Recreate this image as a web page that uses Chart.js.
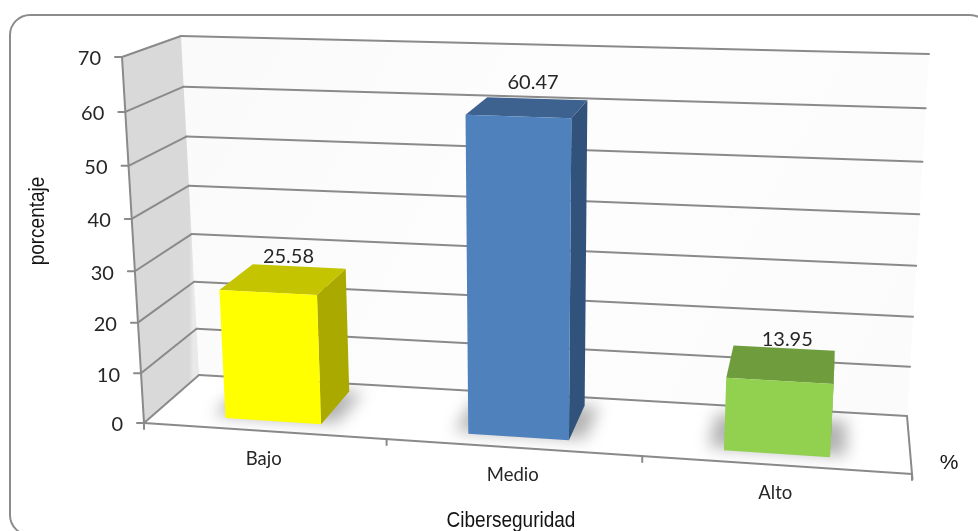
<!DOCTYPE html>
<html lang="es">
<head>
<meta charset="utf-8">
<title>Ciberseguridad</title>
<script src="https://cdn.jsdelivr.net/npm/chart.js@4"></script>
<style>
  html, body { margin: 0; padding: 0; background: #fff; }
  #wrap { width: 978px; height: 531px; overflow: hidden; }
  canvas { display: block; }
</style>
</head>
<body>
<div id="wrap"><canvas id="c" width="978" height="531"></canvas></div>
<script>
// Chart values
const categories = ['Bajo', 'Medio', 'Alto'];
const percentages = [25.58, 60.47, 13.95];
const frontColors = ['#ffff00', '#4f81bd', '#92d050'];
const topColors = ['#c4c400', '#3d6290', '#6f9c3d'];
const sideColors = ['#a9a900', '#31537b', '#5f8a33'];
const axisTitleY = 'porcentaje';
const axisTitleX = 'Ciberseguridad';
const depthTitle = '%';

// Box corners on screen, written as [u, v] corners (0,0) (1,0) (1,1) (0,1); v = 1 is the value-axis top.
const backPlane = [[199, 375], [907, 416], [929, 54], [181, 36]];
const frontPlane = [[144, 423], [912, 474], [937, 79], [122, 57]];
const barDepth = [0.15, 0.8];   // 0 = back wall, 1 = front edge
const lineGrey = '#8a8a8a';

function homography(q) {
  const [p0, p1, p2, p3] = q;
  const sx = p0[0] - p1[0] + p2[0] - p3[0], sy = p0[1] - p1[1] + p2[1] - p3[1];
  const dx1 = p1[0] - p2[0], dx2 = p3[0] - p2[0], dy1 = p1[1] - p2[1], dy2 = p3[1] - p2[1];
  const det = dx1 * dy2 - dx2 * dy1;
  const g = (sx * dy2 - dx2 * sy) / det, h = (dx1 * sy - sx * dy1) / det;
  const a = p1[0] - p0[0] + g * p1[0], b = p3[0] - p0[0] + h * p3[0];
  const d = p1[1] - p0[1] + g * p1[1], e = p3[1] - p0[1] + h * p3[1];
  return (u, v) => {
    const w = g * u + h * v + 1;
    return [(a * u + b * v + p0[0]) / w, (d * u + e * v + p0[1]) / w];
  };
}
const onBack = homography(backPlane);
const onFront = homography(frontPlane);
function project(u, v, depth) {
  const p = onBack(u, v), q = onFront(u, v);
  return [p[0] + (q[0] - p[0]) * depth, p[1] + (q[1] - p[1]) * depth];
}

function fillPoly(ctx, pts, fill) {
  ctx.beginPath();
  pts.forEach((p, i) => i ? ctx.lineTo(p[0], p[1]) : ctx.moveTo(p[0], p[1]));
  ctx.closePath();
  ctx.fillStyle = fill;
  ctx.fill();
}
function line(ctx, a, b, width) {
  ctx.beginPath();
  ctx.moveTo(a[0], a[1]);
  ctx.lineTo(b[0], b[1]);
  ctx.lineWidth = width || 2;
  ctx.strokeStyle = lineGrey;
  ctx.stroke();
}

// Draws the Chart.js scales and bar elements as a perspective box.
const perspectiveBars = {
  id: 'perspectiveBars',
  beforeDatasetsDraw(chart) {
    const { ctx, chartArea: area, scales } = chart;
    const yScale = scales.y, xScale = scales.x;
    const toU = px => (px - area.left) / area.width;
    const toV = px => (area.bottom - px) / area.height;
    ctx.save();

    // Panel outline
    ctx.beginPath();
    ctx.roundRect(10, 15, 980, 520, 20);
    ctx.lineWidth = 2;
    ctx.strokeStyle = '#8c8c8c';
    ctx.stroke();

    // Walls
    const bk = [onBack(0, 0), onBack(1, 0), onBack(1, 1), onBack(0, 1)];
    const grad = ctx.createLinearGradient(bk[0][0], 40, bk[1][0], 400);
    grad.addColorStop(0, '#fafafa');
    grad.addColorStop(0.5, '#fdfdfd');
    grad.addColorStop(1, '#fbfbfb');
    fillPoly(ctx, bk, grad);
    const wallGrad = ctx.createLinearGradient(onFront(0, 0.5)[0], 0, onBack(0, 0.5)[0] + 3, 0);
    wallGrad.addColorStop(0, '#d9d9d9');
    wallGrad.addColorStop(0.93, '#d9d9d9');
    wallGrad.addColorStop(1, '#e9e9e9');
    fillPoly(ctx, [onFront(0, 0), onBack(0, 0), onBack(0, 1), onFront(0, 1)], wallGrad);
    const floor = [onFront(0, 0), onFront(1, 0), onBack(1, 0), onBack(0, 0)];
    fillPoly(ctx, floor, '#ffffff');

    // Gridlines across both walls, with outward ticks and labels
    ctx.lineCap = 'round';
    ctx.textBaseline = 'middle';
    yScale.ticks.forEach(t => {
      const v = toV(yScale.getPixelForValue(t.value));
      const f = onFront(0, v), b = onBack(0, v), r = onBack(1, v);
      line(ctx, f, b);
      line(ctx, b, r);
      line(ctx, [f[0] - 7, f[1]], f);
      ctx.fillStyle = '#262626';
      ctx.font = '20px Lato';
      ctx.textAlign = 'right';
      ctx.fillText(String(t.value), f[0] - 21, f[1] + 2);
    });

    // Box edges
    line(ctx, onFront(0, 0), onFront(0, 1));
    line(ctx, onBack(1, 0), onFront(1, 0));
    line(ctx, onFront(0, 0), onFront(1, 0));
    line(ctx, onFront(1, 0), [onFront(1, 0)[0] + 0.5, onFront(1, 0)[1] + 5]);
    for (let i = 0; i <= categories.length; i++) {
      const u = i / categories.length, p = onFront(u, 0);
      line(ctx, p, [p[0], p[1] + 6]);
    }

    // Category labels
    ctx.textAlign = 'center';
    ctx.font = '18.5px Lato';
    ctx.fillStyle = '#262626';
    xScale.ticks.forEach((t, i) => {
      const u = toU(xScale.getPixelForValue(i)), p = onFront(u, 0);
      ctx.fillText(xScale.getLabelForValue(i), p[0], p[1] + 28);
    });

    // Bars, painted as floor shadow, side, top and front
    const meta = chart.getDatasetMeta(0);
    const [d0, d1] = barDepth;
    meta.data.forEach((el, i) => {
      const u0 = toU(el.x - el.width / 2), u1 = toU(el.x + el.width / 2);
      const v = toV(el.y);
      ctx.save();
      ctx.beginPath();
      floor.forEach((p, k) => k ? ctx.lineTo(p[0], p[1]) : ctx.moveTo(p[0], p[1]));
      ctx.closePath();
      ctx.clip();
      ctx.filter = 'blur(8px)';
      fillPoly(ctx, [project(u0 - 0.02, 0, d1 - 0.04), project(u1 + 0.02, 0, d1 - 0.04),
                     project(u1 + 0.02, 0, d0), project(u0 - 0.02, 0, d0)], 'rgba(0,0,0,0.3)');
      ctx.restore();

      fillPoly(ctx, [project(u1, 0, d1), project(u1, 0, d0), project(u1, v, d0), project(u1, v, d1)], sideColors[i]);
      fillPoly(ctx, [project(u0, v, d1), project(u1, v, d1), project(u1, v, d0), project(u0, v, d0)], topColors[i]);
      fillPoly(ctx, [project(u0, 0, d1), project(u1, 0, d1), project(u1, v, d1), project(u0, v, d1)], frontColors[i]);
    });

    // Value labels: centred over the bar top, raised above its rear edge
    ctx.font = '20px Lato';
    ctx.textAlign = 'center';
    ctx.fillStyle = '#262626';
    meta.data.forEach((el, i) => {
      const value = percentages[i];
      const u = toU(el.x) + 0.007, v = toV(el.y);
      const mid = project(u, v, (d0 + d1) / 2), rear = project(u, v, d0);
      ctx.fillText(value.toFixed(2), mid[0], rear[1] - (6 + 0.17 * value));
    });

    // Axis titles, slightly tall in proportion
    ctx.fillStyle = '#141414';
    ctx.font = '19px "Liberation Sans"';
    ctx.save();
    ctx.translate(511, 521);
    ctx.scale(1, 1.12);
    ctx.fillText(axisTitleX, 0, 0);
    ctx.restore();
    ctx.save();
    ctx.translate(38, 221);
    ctx.rotate(-Math.PI / 2);
    ctx.scale(1, 1.12);
    ctx.fillText(axisTitleY, 0, 0);
    ctx.restore();
    ctx.font = '21px "Liberation Sans"';
    ctx.fillText(depthTitle, 949, 463);

    ctx.restore();
    return false;
  }
};

new Chart(document.getElementById('c'), {
  type: 'bar',
  data: {
    labels: categories,
    datasets: [{ label: 'porcentaje', data: percentages, backgroundColor: frontColors, barPercentage: 0.4, categoryPercentage: 1 }]
  },
  options: {
    responsive: false,
    animation: false,
    plugins: { legend: { display: false }, tooltip: { enabled: false } },
    scales: {
      x: { display: false },
      y: { display: false, min: 0, max: 70, ticks: { stepSize: 10 } }
    }
  },
  plugins: [perspectiveBars]
});
</script>
</body>
</html>
